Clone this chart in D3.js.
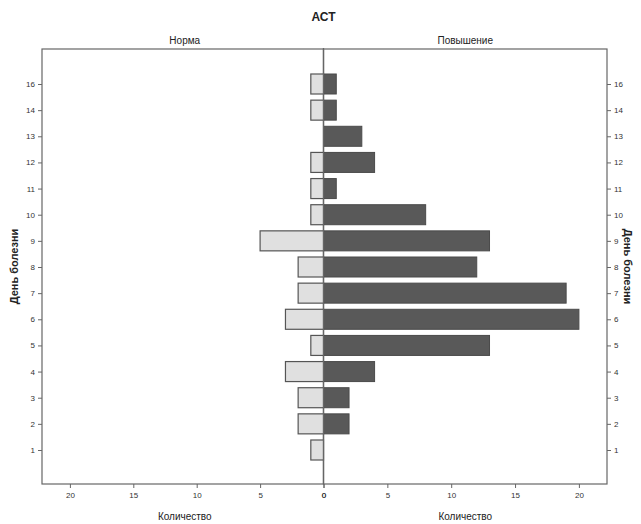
<!DOCTYPE html>
<html>
<head>
<meta charset="utf-8">
<script src="https://cdn.jsdelivr.net/npm/d3@7"></script>
<style>
  html, body { margin: 0; padding: 0; background: #fff; }
  svg { display: block; font-family: Arial, "Liberation Sans", sans-serif; }
</style>
</head>
<body>
<svg id="chart" width="641" height="524"></svg>
<script>
// Days of illness (bottom to top) and counts per group
const days = ["1", "2", "3", "4", "5", "6", "7", "8", "9", "10", "11", "12", "13", "14", "16"];
const normaCounts = [1, 2, 2, 3, 1, 3, 2, 2, 5, 1, 1, 1, 0, 1, 1];
const raisedCounts = [0, 2, 2, 4, 13, 20, 19, 12, 13, 8, 1, 4, 3, 1, 1];
const countTicks = [0, 5, 10, 15, 20];

const title = "АСТ";
const leftTitle = "Норма";
const rightTitle = "Повышение";
const xTitle = "Количество";
const yTitle = "День болезни";

const svg = d3.select("#chart");

const plotTop = 49, plotBottom = 484;
const leftL = 42, center = 323.5, rightR = 607;

// Shared vertical scale for day categories
const y = d3.scalePoint().domain(days).range([450, 84]);
const barH = 20;

// Left panel grows leftwards, right panel rightwards
const xL = d3.scaleLinear().domain([0, 22.2]).range([center, leftL]);
const xR = d3.scaleLinear().domain([0, 22.2]).range([center, rightR]);

const axisColor = "#666";
const textColor = "#333";

// Panel frames
const frame = svg.append("g").attr("fill", "none").attr("stroke", axisColor).attr("stroke-width", 1.2);
frame.append("rect").attr("x", leftL).attr("y", plotTop).attr("width", center - leftL).attr("height", plotBottom - plotTop);
frame.append("rect").attr("x", center).attr("y", plotTop).attr("width", rightR - center).attr("height", plotBottom - plotTop);

// Bars: normal group (light) on the left
const leftData = days.map((d, i) => ({ day: d, v: normaCounts[i] })).filter(d => d.v > 0);
svg.append("g").selectAll("rect").data(leftData).join("rect")
  .attr("x", d => xL(d.v))
  .attr("y", d => y(d.day) - barH / 2)
  .attr("width", d => center - xL(d.v))
  .attr("height", barH)
  .attr("fill", "#e0e0e0")
  .attr("stroke", "#555")
  .attr("stroke-width", 1.2);

// Bars: raised group (dark) on the right
const rightData = days.map((d, i) => ({ day: d, v: raisedCounts[i] })).filter(d => d.v > 0);
svg.append("g").selectAll("rect").data(rightData).join("rect")
  .attr("x", center)
  .attr("y", d => y(d.day) - barH / 2)
  .attr("width", d => xR(d.v) - center)
  .attr("height", barH)
  .attr("fill", "#595959")
  .attr("stroke", "#4a4a4a")
  .attr("stroke-width", 1);

// Centre divider
svg.append("line")
  .attr("x1", center).attr("x2", center)
  .attr("y1", plotTop - 1).attr("y2", plotBottom)
  .attr("stroke", axisColor).attr("stroke-width", 1.2);

function styleAxis(g) {
  g.select(".domain").remove();
  g.selectAll(".tick line").attr("stroke", axisColor);
  g.selectAll(".tick text").attr("fill", textColor).style("font-size", "8px");
}

// Day axes on both sides
svg.append("g").attr("transform", `translate(${leftL},0)`)
  .call(d3.axisLeft(y).tickSize(4).tickPadding(3)).call(styleAxis);
svg.append("g").attr("transform", `translate(${rightR},0)`)
  .call(d3.axisRight(y).tickSize(4).tickPadding(3)).call(styleAxis);

// Count axes under each panel
svg.append("g").attr("transform", `translate(0,${plotBottom})`)
  .call(d3.axisBottom(xL).tickValues(countTicks).tickSize(4).tickPadding(4)).call(styleAxis);
svg.append("g").attr("transform", `translate(0,${plotBottom})`)
  .call(d3.axisBottom(xR).tickValues(countTicks).tickSize(4).tickPadding(4)).call(styleAxis);

// Titles
svg.append("text").attr("x", center).attr("y", 21).attr("text-anchor", "middle")
  .style("font-size", "12px").style("font-weight", "bold").attr("fill", "#222").text(title);
svg.append("text").attr("x", (leftL + center) / 2 + 2).attr("y", 44).attr("text-anchor", "middle")
  .style("font-size", "10px").attr("fill", "#222").text(leftTitle);
svg.append("text").attr("x", (center + rightR) / 2).attr("y", 44).attr("text-anchor", "middle")
  .style("font-size", "10px").attr("fill", "#222").text(rightTitle);

svg.append("text").attr("x", (leftL + center) / 2 + 2).attr("y", 520).attr("text-anchor", "middle")
  .style("font-size", "10px").attr("fill", "#222").text(xTitle);
svg.append("text").attr("x", (center + rightR) / 2).attr("y", 520).attr("text-anchor", "middle")
  .style("font-size", "10px").attr("fill", "#222").text(xTitle);

const midY = (plotTop + plotBottom) / 2;
svg.append("text")
  .attr("transform", `translate(18,${midY}) rotate(-90)`)
  .attr("text-anchor", "middle")
  .style("font-size", "11px").style("font-weight", "bold").attr("fill", "#222").text(yTitle);
svg.append("text")
  .attr("transform", `translate(624,${midY}) rotate(90)`)
  .attr("text-anchor", "middle")
  .style("font-size", "11px").style("font-weight", "bold").attr("fill", "#222").text(yTitle);
</script>
</body>
</html>
